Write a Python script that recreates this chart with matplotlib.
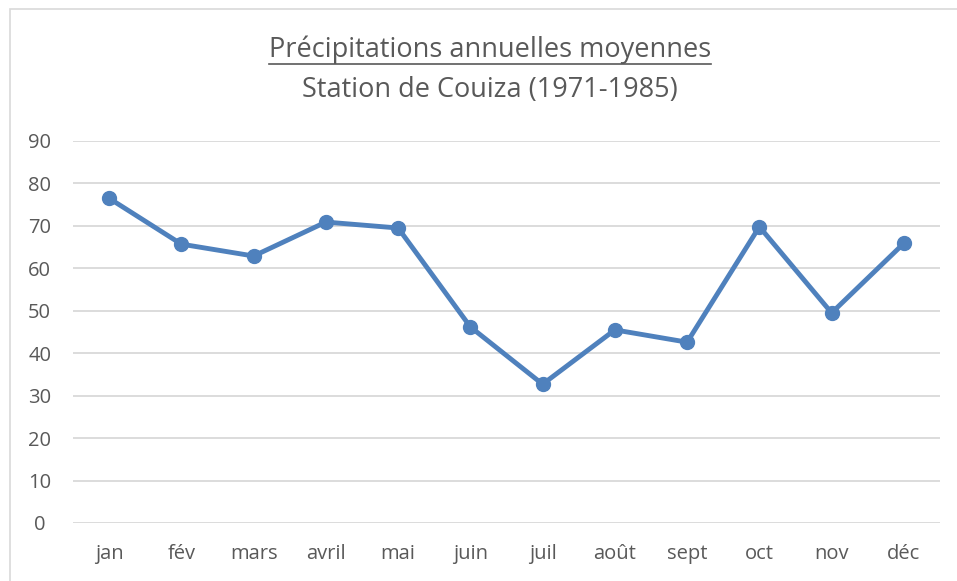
import matplotlib

matplotlib.use("Agg")
import matplotlib.pyplot as plt
from matplotlib.patches import Rectangle
from matplotlib.lines import Line2D

months = ["jan", "fév", "mars", "avril", "mai", "juin", "juil", "août", "sept", "oct", "nov", "déc"]
precip = [76.5, 65.7, 62.9, 70.9, 69.5, 46.2, 32.7, 45.5, 42.6, 69.8, 49.5, 65.9]
yticks = [0, 10, 20, 30, 40, 50, 60, 70, 80, 90]

title = "Précipitations annuelles moyennes"
subtitle = "Station de Couiza (1971-1985)"

TEXT = "#595959"
LINE = "#4F81BD"
GRID = "#D9D9D9"

plt.rcParams["font.family"] = ["Open Sans", "DejaVu Sans"]

W, H = 957, 581
fig = plt.figure(figsize=(W / 100, H / 100), dpi=100)
# light frame round the chart, cut off at the right and bottom edges
fig.patches.append(Rectangle((10 / W, -0.1), 1.2, 1 - 9 / H + 0.1, transform=fig.transFigure,
                             facecolor="none", edgecolor=GRID, linewidth=1.2))

ax = fig.add_axes([73 / W, 1 - 523 / H, (940 - 73) / W, (523 - 141) / H])
x = list(range(len(months)))
ax.plot(x, precip, color=LINE, linewidth=3.5, marker="o", markersize=10, solid_capstyle="round", zorder=3)

ax.set_xlim(-0.5, len(months) - 0.5)
ax.set_ylim(0, 90)
ax.set_yticks(yticks)
ax.set_xticks(x)
ax.set_xticklabels(months)
ax.grid(axis="y", color=GRID, linewidth=1.3)
ax.set_axisbelow(True)
for s in ax.spines.values():
    s.set_visible(False)
ax.tick_params(axis="both", length=0, colors=TEXT, labelsize=14.5)
ax.tick_params(axis="y", pad=24)
ax.tick_params(axis="x", pad=15)
for lbl in ax.get_yticklabels():
    lbl.set_horizontalalignment("center")

t1 = fig.text(490 / W, 1 - 50 / H, title, ha="center", va="center", fontsize=19.5, color=TEXT)
fig.text(490 / W, 1 - 90 / H, subtitle, ha="center", va="center", fontsize=19.5, color=TEXT)

# underline the first title line
fig.canvas.draw()
bb = t1.get_window_extent().transformed(fig.transFigure.inverted())
fig.lines.append(Line2D([bb.x0, bb.x1], [bb.y0 + 0.001, bb.y0 + 0.001], transform=fig.transFigure,
                        color=TEXT, linewidth=1.2))

fig.savefig("out.png", dpi=100)
